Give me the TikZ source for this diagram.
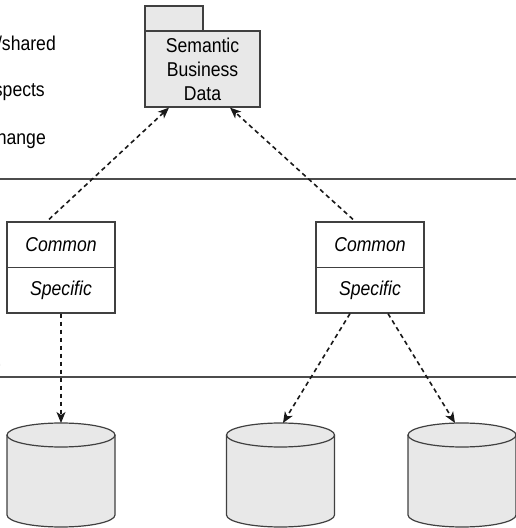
\documentclass[tikz,border=0pt]{standalone}
\usepackage{fontspec}
\setmainfont{Liberation Sans}[FakeStretch=0.88]
\usetikzlibrary{arrows.meta,calc}

\tikzset{
  lbl/.style={font=\fontsize{20}{24}\selectfont, inner sep=0pt},
  boxline/.style={draw=black!75, line width=1.2pt},
  pkgbox/.style={boxline, fill=black!9, minimum width=115pt, minimum height=76pt, inner sep=0pt, align=center, font=\fontsize{20}{24}\selectfont},
  tabbox/.style={boxline, fill=black!9, minimum width=58pt, minimum height=25pt, inner sep=0pt},
  classpart/.style={boxline, fill=white, minimum width=108pt, minimum height=45.5pt, inner sep=0pt, font=\fontsize{20}{24}\selectfont\itshape},
  layer/.style={draw=black!70, line width=1.2pt},
  dep/.style={black!90, line width=1.6pt, dash pattern=on 4.5pt off 3.5pt, -{Stealth[length=11pt,width=9pt,inset=3pt]}},
  dbfill/.style={boxline, fill=black!9}
}

% database cylinder: name, centre x
\newcommand\dbcyl[2]{%
  \path[dbfill] (#2-54,93) -- (#2-54,13) arc[start angle=180,end angle=360,x radius=54pt,y radius=12pt] -- (#2+54,93);
  \draw[dbfill] (#2,93) ellipse[x radius=54pt,y radius=12pt];
  \coordinate (#1) at (#2,105);
}

\begin{document}
\begin{tikzpicture}[x=1pt,y=1pt]
  \useasboundingbox (0,0) rectangle (516,528);
  \clip (0,0) rectangle (516,528);

  % layer separators
  \draw[layer] (0,349) -- (516,349);
  \draw[layer] (0,151) -- (516,151);

  % side notes (run off the left margin)
  \node[lbl, anchor=east] (n1) at (56,485) {/shared};
  \node[lbl, anchor=east] (n2) at (45,436) {spects};
  \node[lbl, anchor=east] (n3) at (46,389) {hange};
  \node[lbl, anchor=east] (n4) at (2,163) {.};

  % semantic package
  \node[tabbox] (tab) at (174,509.5) {};
  \node[pkgbox] (pkg) at (202.5,459) {Semantic\\Business\\Data};

  % classes
  \node[classpart] (lc) at (61,283.25) {Common};
  \node[classpart] (ls) at (61,237.75) {Specific};
  \node[classpart] (rc) at (370,283.25) {Common};
  \node[classpart] (rs) at (370,237.75) {Specific};

  % data stores
  \dbcyl{d1}{61}
  \dbcyl{d2}{280.5}
  \dbcyl{d3}{462}
  \coordinate (d2t) at (283,105);
  \coordinate (d3t) at (455,105);

  % dependencies
  \draw[dep] ([xshift=-12pt,yshift=2pt]lc.north) -- ([xshift=-33.5pt]pkg.south);
  \draw[dep] ([xshift=-17pt,yshift=2pt]rc.north) -- ([xshift=27.5pt]pkg.south);
  \draw[dep] (ls.south) -- (d1);
  \draw[dep] ([xshift=-20pt]rs.south) -- (d2t);
  \draw[dep] ([xshift=18pt]rs.south) -- (d3t);
\end{tikzpicture}
\end{document}
